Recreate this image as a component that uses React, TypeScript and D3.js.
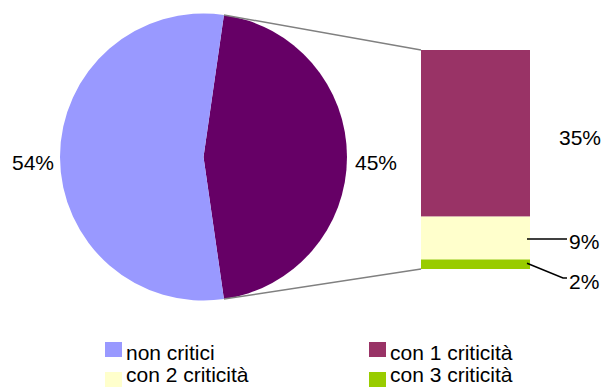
import React from "react";
import * as d3 from "d3";

const pieLabels = ["con criticità", "non critici"];
const pieValues = [45, 54];
const pieColors = ["#660066", "#9999FF"];

const barLabels = ["con 1 criticità", "con 2 criticità", "con 3 criticità"];
const barValues = [35, 9, 2];
const barColors = ["#993366", "#FFFFCC", "#99CC00"];

const legendItems = ["non critici", "con 1 criticità", "con 2 criticità", "con 3 criticità"];
const legendColors = ["#9999FF", "#993366", "#FFFFCC", "#99CC00"];

const W = 605;
const H = 387;
const FONT = "'Liberation Sans', Arial, sans-serif";
const FS = 21;

export default function App() {
  const cx = 203.5;
  const cy = 157;
  const r = 143.5;
  const total = d3.sum(pieValues);
  const half = (pieValues[0] / total) * Math.PI;
  const start = Math.PI / 2 - half;
  const pie = d3
    .pie<number>()
    .sort(null)
    .value((d) => d)
    .startAngle(start)
    .endAngle(start + 2 * Math.PI);
  const arcs = pie(pieValues);
  const arcGen = d3.arc<d3.PieArcDatum<number>>().innerRadius(0).outerRadius(r);

  const barX0 = 421;
  const barX1 = 530;
  const barTotal = d3.sum(barValues);
  const y = d3.scaleLinear().domain([0, barTotal]).range([269, 50]);
  const segsTop: { v: number; i: number; top: number; bot: number; mid: number }[] = [];
  let accTop = barTotal;
  barValues.forEach((v, i) => {
    const top = y(accTop);
    const bot = y(accTop - v);
    segsTop.push({ v, i, top, bot, mid: (top + bot) / 2 });
    accTop -= v;
  });

  const pa = arcs[0];
  const pTop = [cx + r * Math.sin(pa.startAngle), cy - r * Math.cos(pa.startAngle)];
  const pBot = [cx + r * Math.sin(pa.endAngle), cy - r * Math.cos(pa.endAngle)];

  const pct = (v: number) => `${v}%`;

  return (
    <svg width={W} height={H} style={{ position: "absolute", left: 0, top: 0, background: "#fff" }}
      fontFamily={FONT} fontSize={FS}>
      <rect x={0} y={0} width={W} height={H} fill="#fff" />
      <g transform={`translate(${cx},${cy})`}>
        {arcs.map((a, i) => (
          <path key={i} d={arcGen(a) || ""} fill={pieColors[i]} />
        ))}
      </g>
      <line x1={pTop[0]} y1={pTop[1]} x2={barX0} y2={y(barTotal)} stroke="#808080" strokeWidth={1.5} />
      <line x1={pBot[0]} y1={pBot[1]} x2={barX0} y2={y(0)} stroke="#808080" strokeWidth={1.5} />
      {segsTop.map((s) => (
        <rect key={s.i} x={barX0} y={s.top} width={barX1 - barX0} height={s.bot - s.top} fill={barColors[s.i]} />
      ))}
      {/* pie labels */}
      <text x={cx + r + 8} y={170} fill="#000">{pct(pieValues[0])}</text>
      <text x={cx - r - 6} y={170} textAnchor="end" fill="#000">{pct(pieValues[1])}</text>
      {/* bar labels */}
      <text x={559} y={segsTop[0].mid + 12} fill="#000">{pct(barValues[0])}</text>
      <line x1={527} y1={239} x2={567} y2={239} stroke="#000" strokeWidth={1.5} />
      <text x={569} y={249} fill="#000">{pct(barValues[1])}</text>
      <polyline points={`527,${segsTop[2].mid - 1} 563,278 567,278`} fill="none" stroke="#000" strokeWidth={1.5} />
      <text x={569} y={289} fill="#000">{pct(barValues[2])}</text>
      {/* legend */}
      {legendItems.map((t, i) => {
        const col = i % 2;
        const row = Math.floor(i / 2);
        const lx = col === 0 ? 105 : 369;
        const ly = 342 + row * 30;
        return (
          <g key={t}>
            <rect x={lx} y={ly} width={17} height={15} fill={legendColors[i]} />
            <text x={lx + 21} y={row === 0 ? 360 : 382} fill="#000">{t}</text>
          </g>
        );
      })}
    </svg>
  );
}
